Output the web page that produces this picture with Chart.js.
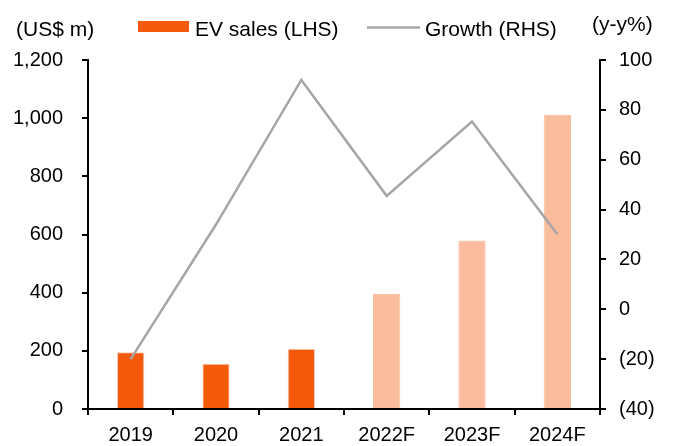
<!DOCTYPE html>
<html>
<head>
<meta charset="utf-8">
<script src="https://cdn.jsdelivr.net/npm/chart.js@4"></script>
<style>
  html, body { margin: 0; padding: 0; background: #fff; }
  #wrap { width: 673px; height: 446px; position: relative; }
</style>
</head>
<body>
<div id="wrap"><canvas id="chart"></canvas></div>
<script>
// Chart data
const years = ['2019', '2020', '2021', '2022F', '2023F', '2024F'];
const evSales = [195, 156, 207, 396, 579, 1012];      // US$ m (LHS)
const growth = [-20, 34, 92, 45.5, 75.3, 30.1];      // y-y% (RHS)
const leftTicks = [0, 200, 400, 600, 800, 1000, 1200];
const rightTicks = [-40, -20, 0, 20, 40, 60, 80, 100];

const FONT = '"Liberation Sans", Arial, sans-serif';
const ORANGE = '#F45A0C';
const LIGHT = '#F9BC9D';
const GREY = '#A6A6A6';

// actual years solid, forecasts light
const barColors = years.map(y => y.endsWith('F') ? LIGHT : ORANGE);
const barBorders = years.map(y => y.endsWith('F') ? LIGHT : '#F9CDB5');

// Legend and unit labels drawn on the canvas
const headerPlugin = {
    id: 'header',
    afterDraw(chart) {
        const ctx = chart.ctx;
        ctx.save();
        ctx.font = '21px ' + FONT;
        ctx.fillStyle = '#000';
        ctx.textBaseline = 'middle';
        ctx.textAlign = 'left';
        ctx.fillText('(US$ m)', 16, 30);
        ctx.fillText('(y-y%)', 592, 25);

        // EV sales entry
        ctx.fillStyle = ORANGE;
        ctx.fillRect(138, 21, 51, 11);
        ctx.fillStyle = '#000';
        ctx.fillText('EV sales (LHS)', 195, 30);

        // Growth entry
        ctx.strokeStyle = GREY;
        ctx.lineWidth = 2.5;
        ctx.beginPath();
        ctx.moveTo(367, 27.5);
        ctx.lineTo(420, 27.5);
        ctx.stroke();
        ctx.fillText('Growth (RHS)', 425, 30);
        ctx.restore();
    }
};

const fmtLeft = v => v.toLocaleString('en-US');
const fmtRight = v => v < 0 ? '(' + Math.abs(v) + ')' : String(v);

new Chart(document.getElementById('chart'), {
    data: {
        labels: years,
        datasets: [
            {
                type: 'line',
                label: 'Growth (RHS)',
                data: growth,
                yAxisID: 'y2',
                borderColor: GREY,
                borderWidth: 2.5,
                pointRadius: 0,
                tension: 0,
                order: 0
            },
            {
                type: 'bar',
                label: 'EV sales (LHS)',
                data: evSales,
                yAxisID: 'y',
                backgroundColor: barColors,
                borderColor: barBorders,
                borderWidth: { top: 1, left: 1, right: 1, bottom: 0 },
                borderSkipped: false,
                categoryPercentage: 1,
                barPercentage: 0.32,
                order: 1
            }
        ]
    },
    options: {
        responsive: true,
        maintainAspectRatio: false,
        animation: false,
        layout: { padding: { top: 60, left: 0, right: 0, bottom: 0 } },
        plugins: {
            legend: { display: false },
            tooltip: { enabled: false }
        },
        scales: {
            x: {
                offset: true,
                grid: {
                    offset: true,
                    drawOnChartArea: false,
                    drawTicks: true,
                    tickLength: 6,
                    color: '#000',
                    lineWidth: 2
                },
                border: { display: true, color: '#000', width: 2 },
                ticks: {
                    color: '#000',
                    padding: 8,
                    font: { family: FONT, size: 20 },
                    maxRotation: 0
                },
                afterFit: s => { s.height = 37; }
            },
            y: {
                position: 'left',
                min: 0,
                max: 1200,
                afterBuildTicks: s => { s.ticks = leftTicks.map(v => ({ value: v })); },
                grid: {
                    drawOnChartArea: false,
                    drawTicks: true,
                    tickLength: 6,
                    color: '#000',
                    lineWidth: 2
                },
                border: { display: true, color: '#000', width: 2 },
                ticks: {
                    color: '#000',
                    padding: 19,
                    font: { family: FONT, size: 20 },
                    callback: v => fmtLeft(v)
                },
                afterFit: s => { s.width = 88; }
            },
            y2: {
                position: 'right',
                min: -40,
                max: 100,
                afterBuildTicks: s => { s.ticks = rightTicks.map(v => ({ value: v })); },
                grid: {
                    drawOnChartArea: false,
                    drawTicks: true,
                    tickLength: 6,
                    color: '#000',
                    lineWidth: 2
                },
                border: { display: true, color: '#000', width: 2 },
                ticks: {
                    color: '#000',
                    padding: 13,
                    font: { family: FONT, size: 20 },
                    callback: v => fmtRight(v)
                },
                afterFit: s => { s.width = 73; }
            }
        }
    },
    plugins: [headerPlugin]
});
</script>
</body>
</html>
